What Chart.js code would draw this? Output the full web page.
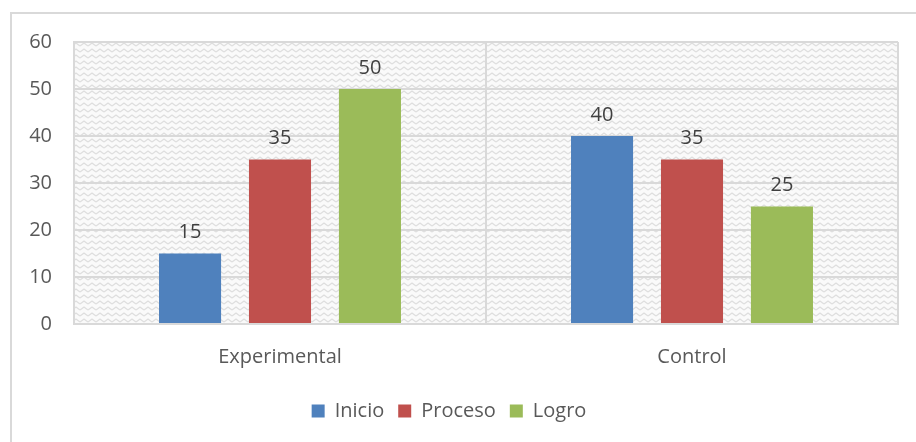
<!DOCTYPE html>
<html>
<head>
<meta charset="utf-8">
<script src="https://cdn.jsdelivr.net/npm/chart.js@4.4.1/dist/chart.umd.min.js"></script>
<style>
  html, body { margin: 0; padding: 0; background: #fff; }
  #wrap { position: absolute; left: 0; top: 0; width: 916px; height: 442px; }
  #frame { position: absolute; left: 10px; top: 12px; width: 920px; height: 440px;
           border-left: 2px solid #d9d9d9; border-top: 2px solid #d9d9d9; }
  canvas { position: absolute; left: 0; top: 0; }
</style>
</head>
<body>
<div id="wrap">
  <div id="frame"></div>
  <canvas id="chart" width="916" height="442"></canvas>
</div>
<script>
const categories = ["Experimental", "Control"];
const seriesNames = ["Inicio", "Proceso", "Logro"];
const inicio = [15, 40];
const proceso = [35, 35];
const logro = [50, 25];
const yTicks = [0, 10, 20, 30, 40, 50, 60];

const colors = ["#4f81bd", "#c0504d", "#9bbb59"];
const textColor = "#595959";
const fontFamily = "'Open Sans', 'DejaVu Sans', sans-serif";

// zigzag texture like the office "wave" fill
function makePattern() {
    const c = document.createElement("canvas");
    c.width = 8; c.height = 6;
    const g = c.getContext("2d");
    g.fillStyle = "#fafafa";
    g.fillRect(0, 0, 8, 6);
    g.strokeStyle = "#dedede";
    g.lineWidth = 1.4;
    g.beginPath();
    g.moveTo(0, 4); g.lineTo(4, 1); g.lineTo(8, 4);
    g.stroke();
    return c;
}
const patternCanvas = makePattern();

const plotBackground = {
    id: "plotBackground",
    beforeDraw(chart) {
        const { ctx, chartArea } = chart;
        ctx.save();
        ctx.fillStyle = ctx.createPattern(patternCanvas, "repeat");
        ctx.fillRect(chartArea.left, chartArea.top, chartArea.right - chartArea.left, chartArea.bottom - chartArea.top);
        ctx.restore();
    }
};

const valueLabels = {
    id: "valueLabels",
    afterDatasetsDraw(chart) {
        const ctx = chart.ctx;
        ctx.save();
        ctx.font = "20px " + fontFamily;
        ctx.fillStyle = "#404040";
        ctx.textAlign = "center";
        ctx.textBaseline = "bottom";
        chart.data.datasets.forEach((ds, i) => {
            chart.getDatasetMeta(i).data.forEach((bar, j) => {
                ctx.fillText(ds.data[j], bar.x, bar.y - 11);
            });
        });
        ctx.restore();
    }
};

new Chart(document.getElementById("chart"), {
    type: "bar",
    data: {
        labels: categories,
        datasets: [
            { label: seriesNames[0], data: inicio, backgroundColor: colors[0] },
            { label: seriesNames[1], data: proceso, backgroundColor: colors[1] },
            { label: seriesNames[2], data: logro, backgroundColor: colors[2] }
        ]
    },
    options: {
        responsive: false,
        animation: false,
        categoryPercentage: 0.655,
        barPercentage: 0.69,
        layout: { padding: { top: 42, right: 18, left: 0, bottom: 11 } },
        scales: {
            x: {
                grid: { color: "#d9d9d9", lineWidth: 2, drawTicks: false, offset: true },
                border: { color: "#d9d9d9", width: 2 },
                ticks: { color: textColor, font: { family: fontFamily, size: 20 }, padding: 21 },
                afterFit(scale) { scale.height = 63; }
            },
            y: {
                min: 0, max: 60,
                afterBuildTicks(scale) { scale.ticks = yTicks.map(v => ({ value: v })); },
                grid: { color: "#d9d9d9", lineWidth: 2, drawTicks: false },
                border: { color: "#d9d9d9", width: 2 },
                ticks: { color: textColor, font: { family: fontFamily, size: 20 }, padding: 22 },
                afterFit(scale) { scale.width = 74; }
            }
        },
        plugins: {
            legend: {
                position: "bottom",
                labels: {
                    color: textColor,
                    font: { family: fontFamily, size: 20 },
                    boxWidth: 13, boxHeight: 13, padding: 14
                }
            },
            tooltip: { enabled: false }
        }
    },
    plugins: [plotBackground, valueLabels]
});
</script>
</body>
</html>
